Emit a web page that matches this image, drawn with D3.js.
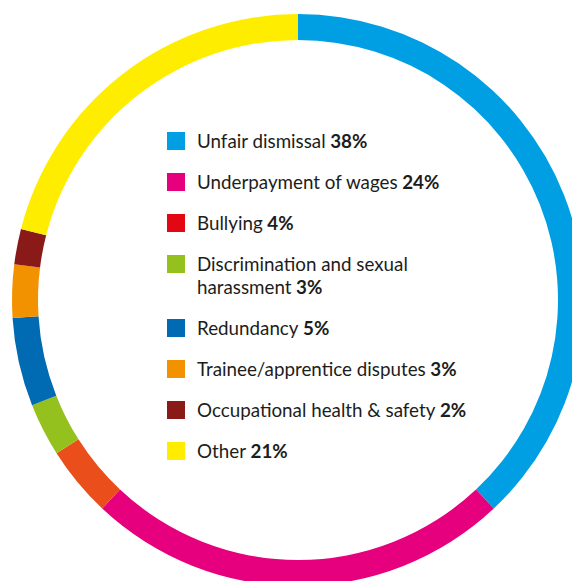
<!DOCTYPE html>
<html>
<head>
<meta charset="utf-8">
<script src="https://cdn.jsdelivr.net/npm/d3@7"></script>
<style>
  html, body { margin: 0; padding: 0; background: white; }
  svg { display: block; }
</style>
</head>
<body>
<svg id="mainSvg" width="572" height="581"></svg>
<script>
// data
var categories = ["Unfair dismissal", "Underpayment of wages", "Bullying",
                  "Discrimination and sexual harassment", "Redundancy",
                  "Trainee/apprentice disputes", "Occupational health & safety", "Other"];
var shares = [38, 24, 4, 3, 5, 3, 2, 21];
var ringColors = ["#009fe3", "#e6007e", "#e94e1b", "#95c11f", "#006ab3", "#f39200", "#891a17", "#ffed00"];
var legendColors = ["#009fe3", "#e6007e", "#e30613", "#95c11f", "#006ab3", "#f39200", "#891a17", "#ffed00"];

var fontFamily = "Lato, 'Open Sans', sans-serif";
var fontSize = 18.8;

window.addEventListener("load", drawChart);

function drawChart()
{
    const svg = d3.select("#mainSvg");
    const cx = 298, cy = 300;
    const outerR = 286, innerR = 260;

    // ring
    const pie = d3.pie().sort(null).value(d => d)(shares);
    const arc = d3.arc().innerRadius(innerR).outerRadius(outerR);
    const ring = svg.append("g").attr("transform", `translate(${cx}, ${cy})`);
    ring.selectAll("path").data(pie).join("path")
        .attr("d", arc)
        .attr("fill", (d, i) => ringColors[i]);

    // legend
    const legendX = 167, firstTop = 132, rowStep = 41, lineStep = 23, boxSize = 18;
    const textX = 197, wrapWidth = 280;
    const legend = svg.append("g");
    let top = firstTop;
    categories.forEach(function(name, i)
    {
        legend.append("rect")
            .attr("x", legendX).attr("y", top)
            .attr("width", boxSize).attr("height", boxSize)
            .attr("fill", legendColors[i]);

        // word wrap, last line gets the bold share
        const words = name.split(" ");
        const probe = legend.append("text")
            .attr("font-family", fontFamily).attr("font-size", fontSize);
        let lines = [], line = "";
        words.forEach(function(w)
        {
            let test = line ? line + " " + w : w;
            probe.text(test + " " + shares[i] + "%");
            if (line && probe.node().getComputedTextLength() > wrapWidth) {
                lines.push(line);
                line = w;
            } else line = test;
        });
        lines.push(line);
        probe.remove();

        lines.forEach(function(l, j)
        {
            const t = legend.append("text")
                .attr("x", textX)
                .attr("y", top + 15.5 + j * lineStep)
                .attr("font-family", fontFamily)
                .attr("font-size", fontSize)
                .attr("fill", "#1d1d1b");
            t.append("tspan").text(l);
            if (j === lines.length - 1)
                t.append("tspan").attr("font-weight", "bold").text(" " + shares[i] + "%");
        });
        top += rowStep + (lines.length - 1) * lineStep;
    });
}
</script>
</body>
</html>
